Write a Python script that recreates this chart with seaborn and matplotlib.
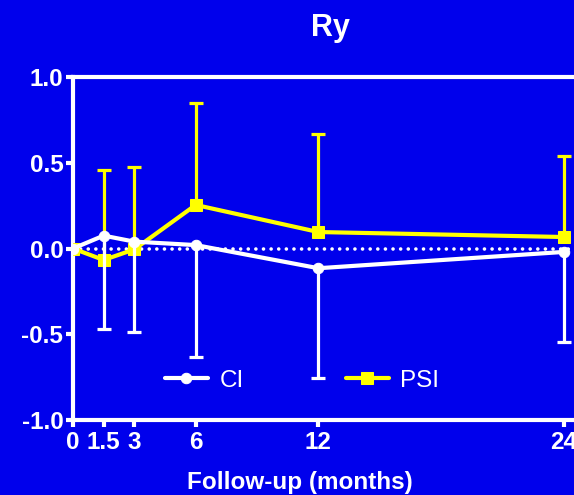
import numpy as np
import pandas as pd
import matplotlib
matplotlib.use("Agg")
import matplotlib.pyplot as plt
import seaborn as sns

# Follow-up months and group summaries (mean, one-sided error bar end)
months = [0, 1.5, 3, 6, 12, 24]
ci_mean = [0.0, 0.075, 0.04, 0.02, -0.115, -0.02]
ci_low = [0.0, -0.47, -0.487, -0.633, -0.755, -0.545]
psi_mean = [0.0, -0.067, -0.005, 0.254, 0.096, 0.067]
psi_high = [0.0, 0.458, 0.475, 0.848, 0.668, 0.54]
x_ticks = [0, 1.5, 3, 6, 12, 24]
x_ticklabels = ["0", "1.5", "3", "6", "12", "24"]
y_ticks = [-1.0, -0.5, 0.0, 0.5, 1.0]

BG = "#0000EC"
WHITE = "#FFFFFF"
YELLOW = "#FFFF00"

sns.set_theme(style="white")
plt.rcParams["font.family"] = ["Liberation Sans", "DejaVu Sans"]

df_ci = pd.DataFrame({"month": months, "value": ci_mean})
df_psi = pd.DataFrame({"month": months, "value": psi_mean})

fig = plt.figure(figsize=(5.74, 4.95), dpi=100, facecolor=BG)
ax = fig.add_axes([73 / 574, 75 / 495, 521.5 / 574, 343 / 495])
ax.set_facecolor(BG)

# zero reference line
ax.axhline(0, color=WHITE, lw=2.6, linestyle=(0, (0.01, 2.1)),
           dash_capstyle="round", zorder=1)

# PSI: upward error bars
m = np.array(months[1:])
pm = np.array(psi_mean[1:])
ph = np.array(psi_high[1:])
eb = ax.errorbar(m, pm, yerr=[np.zeros_like(pm), ph - pm], fmt="none",
                 ecolor=YELLOW, elinewidth=2.3, capsize=5, capthick=2.3,
                 zorder=2)
eb[1][0].set_visible(False)
sns.lineplot(data=df_psi, x="month", y="value", ax=ax, color=YELLOW,
             marker="s", markersize=9, markeredgecolor=YELLOW,
             lw=3, label="PSI", zorder=3)

# CI: downward error bars
cm = np.array(ci_mean[1:])
cl = np.array(ci_low[1:])
eb = ax.errorbar(m, cm, yerr=[cm - cl, np.zeros_like(cm)], fmt="none",
                 ecolor=WHITE, elinewidth=2.3, capsize=5, capthick=2.3,
                 zorder=4)
eb[1][1].set_visible(False)
sns.lineplot(data=df_ci, x="month", y="value", ax=ax, color=WHITE,
             marker="o", markersize=7.5, markeredgecolor=WHITE,
             lw=3, label="CI", zorder=5)

ax.set_xlim(0, 25.5)
ax.set_ylim(-1, 1)
ax.set_xticks(x_ticks)
ax.set_xticklabels(x_ticklabels)
ax.set_yticks(y_ticks)
ax.set_yticklabels([f"{v:.1f}" for v in y_ticks])

for side in ["left", "bottom", "top"]:
    ax.spines[side].set_visible(True)
    ax.spines[side].set_color(WHITE)
    ax.spines[side].set_linewidth(3)
ax.spines["right"].set_visible(False)

ax.tick_params(axis="both", which="both", direction="out", length=5,
               width=3, color=WHITE, labelcolor=WHITE, labelsize=17.5,
               left=True, bottom=True)
ax.tick_params(axis="y", pad=2)
ax.tick_params(axis="x", pad=3)
for lab in ax.get_xticklabels() + ax.get_yticklabels():
    lab.set_fontweight("bold")

ax.set_xlabel("Follow-up (months)", color=WHITE, fontsize=17.5,
              fontweight="bold")
ax.xaxis.set_label_coords(0.435, -0.15)
ax.set_ylabel("")

fig.text(330 / 574, 1 - 28 / 495, "Ry", color=WHITE, fontsize=22,
         fontweight="bold", ha="center", va="center")

handles, labels = ax.get_legend_handles_labels()
order = [labels.index("CI"), labels.index("PSI")]
leg = ax.legend([handles[i] for i in order], [labels[i] for i in order],
                loc="center", bbox_to_anchor=(0.439, 0.114), ncol=2,
                frameon=False, fontsize=17.5, handlelength=1.8,
                columnspacing=4.2, handletextpad=0.45)
for t in leg.get_texts():
    t.set_color(WHITE)

fig.savefig("out.png", dpi=100, facecolor=BG)
